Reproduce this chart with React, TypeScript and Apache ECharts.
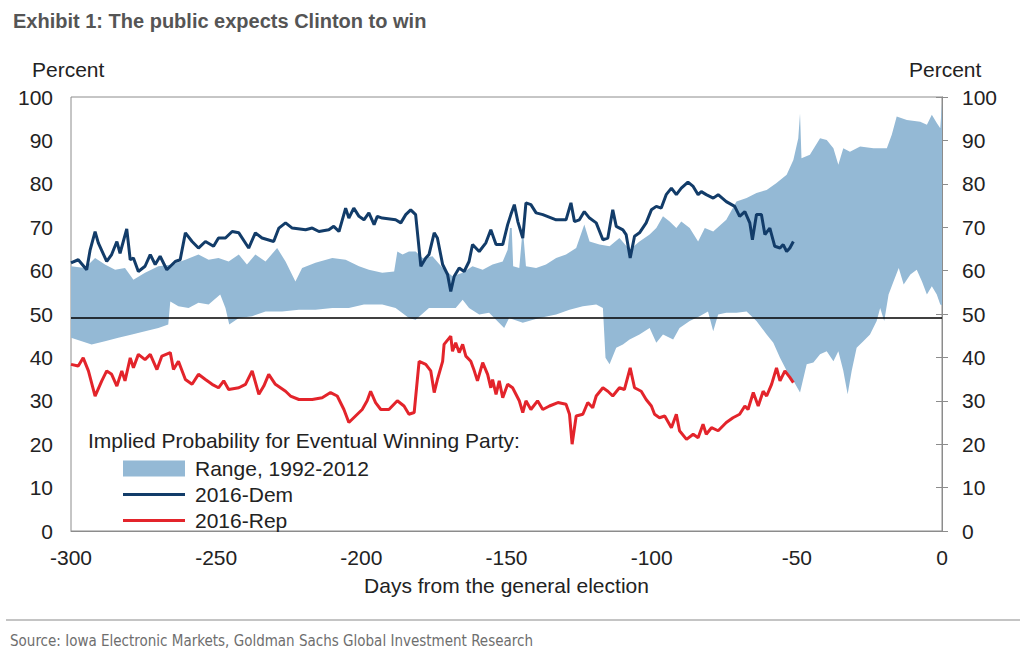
import React, { useEffect, useRef } from "react";
import * as echarts from "echarts";

const demDays = [-300, -297.5, -294.6, -293.4, -291.7, -290.6, -287.7, -286, -284.2, -283.1, -280.8, -279.6, -278.5, -276.8, -274.5, -272.7, -271, -269.3, -267, -264.1, -262.4, -260.6, -258.3, -256.1, -253.7, -250.9, -249.2, -246.8, -244.5, -242.2, -238.8, -236.5, -234.2, -230.2, -228.4, -226.1, -223.8, -219.2, -216.9, -214.6, -211.2, -209.5, -207.7, -205.4, -204.3, -202.6, -200.8, -199.1, -197.4, -195.6, -194.5, -192.8, -188.2, -186.4, -184.7, -183, -181.3, -179.5, -177.8, -176.7, -174.9, -173.8, -172, -170.3, -169.2, -168, -166.3, -164.6, -162.9, -161.7, -159.4, -157.1, -155.4, -153.6, -151.3, -149.6, -148.5, -147.3, -146.1, -144.4, -143.3, -141.6, -139.8, -137.5, -132.9, -129.5, -127.8, -126.6, -124.9, -123.2, -121.4, -119.1, -116.8, -115.1, -113.4, -112.2, -109.9, -108.8, -107.4, -105.9, -104.2, -101.9, -100.1, -98.4, -96.7, -95, -93.2, -91.5, -89.8, -87.5, -85.7, -84, -82.9, -81.2, -78.8, -77.1, -74.3, -71.4, -69.7, -67.9, -66.2, -65.3, -63.9, -62.2, -61, -59.3, -57.6, -55.8, -54.7, -53.5, -52.4, -51.2];
const demVals = [61.8, 62.5, 60.2, 64.8, 69, 66.4, 62.1, 63.7, 66.7, 64, 69.6, 62.5, 62.9, 59.8, 61, 63.7, 61.4, 63.3, 60.2, 62.1, 62.5, 68.7, 66.7, 65.2, 66.7, 65.6, 67.5, 67.5, 69, 68.7, 65.2, 68.7, 67.5, 66.7, 69.8, 71, 69.8, 69.4, 69.8, 69, 69.4, 70.2, 69, 74.4, 72.1, 74.4, 72.5, 71.7, 73.3, 70.6, 72.5, 72.1, 71.7, 71, 72.9, 74, 72.9, 61, 62.9, 63.7, 68.7, 67.5, 61.4, 59.1, 55.2, 58.7, 60.6, 59.8, 62.1, 66, 64.4, 66.4, 69.4, 66, 66, 70.6, 72.9, 75.2, 71.3, 67.5, 75.6, 75.2, 73.3, 72.9, 71.7, 71.7, 75.6, 71.3, 71.7, 73.6, 72.1, 71, 67.1, 67.5, 74, 70.2, 69.4, 68.3, 62.9, 67.9, 68.7, 71, 74, 74.8, 74.4, 77.5, 79, 77.5, 79, 80.4, 79.4, 77.5, 78.2, 77.5, 76.7, 77.5, 75.9, 74.8, 72.5, 73.6, 71, 67.1, 72.9, 72.9, 68.3, 69.8, 65.6, 65.2, 66, 64.4, 65.2, 66.7];

const repDays = [-300, -297.5, -295.8, -294, -291.7, -289.4, -287.7, -286, -284.2, -282.5, -281.4, -279.6, -278.5, -276.8, -274.5, -272.7, -270.4, -268.7, -265.8, -264.7, -263, -260.6, -258.3, -256.1, -253.7, -251.4, -249.2, -247.4, -245.7, -242.2, -239.9, -237.6, -235.3, -233.6, -231.9, -229.6, -226.1, -224.4, -221.5, -216.9, -213.5, -210.6, -208.3, -206, -204.3, -202, -199.7, -198, -196.8, -195.1, -193.3, -190.5, -187.6, -185.3, -183.6, -181.8, -180.1, -177.8, -176.1, -174.9, -173.8, -172, -171.5, -169.2, -168.6, -167.5, -166.3, -165.1, -164, -162.3, -161.1, -160, -158.2, -156.5, -155.4, -154.8, -153.6, -152.5, -151.3, -149.6, -147.9, -145.6, -144.4, -143.3, -141.6, -139.3, -137.5, -135.2, -132.3, -129.5, -128.3, -127.4, -126, -123.7, -122, -120.3, -119.1, -116.8, -115.1, -113.4, -111.1, -109.4, -107.4, -105.9, -103.6, -101.9, -100.1, -99, -97.3, -95.5, -93.2, -91.5, -90.4, -88, -85.7, -84, -82.3, -81.2, -79.4, -77.1, -74.3, -72, -69.7, -67.9, -66.8, -65, -63.3, -61.6, -60.4, -58.7, -57, -55.8, -54.1, -52.4, -51.2];
const repVals = [38.4, 38, 39.9, 36.9, 31.1, 34.6, 36.9, 36.1, 33.4, 36.9, 34.6, 39.9, 37.6, 40.7, 39.5, 40.7, 37.2, 40.3, 41.1, 37.2, 39.1, 34.9, 33.8, 36.1, 34.9, 33.8, 33, 34.6, 32.6, 33, 33.8, 36.9, 31.5, 33.4, 36.1, 33.8, 32.2, 31.1, 30.3, 30.3, 30.7, 31.9, 31.1, 28, 25, 26.5, 28, 30, 32.2, 29.6, 28, 28, 30, 28.8, 26.9, 27.3, 39.1, 38.4, 36.9, 31.9, 34.9, 39.1, 43, 44.9, 41.4, 43.4, 41.1, 43, 40.3, 39.1, 36.9, 34.6, 38.8, 36.1, 33, 34.9, 31.5, 34.6, 30.7, 33.8, 33, 30, 27.3, 30, 28, 30, 28, 28.8, 29.6, 29.2, 26.9, 20, 26.5, 26.9, 29.6, 28.4, 31.1, 33, 32.2, 31.1, 33, 32.6, 37.6, 33, 32.2, 30.3, 28.8, 26.9, 26.1, 26.5, 23.8, 26.9, 23.1, 21.1, 22.3, 21.5, 24.6, 22.3, 23.8, 23.1, 25, 26.1, 26.9, 28.8, 28, 31.9, 28.8, 32.2, 31.1, 33.8, 37.6, 34.6, 36.9, 35.4, 34.2];

const rangeUpperDays = [-300, -295.2, -291.7, -288.3, -284.8, -281.4, -278.5, -274.5, -269.9, -265.2, -260.6, -256.1, -252.6, -249.2, -245.7, -242.2, -239.4, -236.5, -233, -229, -226.1, -222.7, -220.4, -215.8, -210, -205.4, -200.8, -197.4, -192.8, -188.7, -187.6, -185.8, -183.6, -181.3, -178.9, -175.5, -172, -168.6, -165.1, -161.7, -158.2, -154.8, -151.3, -149.6, -148.8, -148.2, -147.7, -145.6, -144.7, -144.1, -143.3, -139.8, -136.4, -132.9, -129.5, -126, -123.2, -121.4, -118, -114.5, -111.1, -107.6, -104.2, -100.7, -98.4, -96.1, -93.8, -91.5, -89.8, -86.9, -84, -81.7, -78.8, -74.3, -70.8, -67.3, -63.9, -60.4, -57, -53.5, -51.2, -49.5, -48.9, -48.4, -45.5, -42, -39.7, -37.4, -35.7, -34, -31.7, -28.2, -23.6, -19, -17.3, -15.6, -12.1, -7.5, -5.2, -3.5, -1.8, -0.6, 0];
const rangeUpperVals = [61, 60.6, 62.9, 61.4, 60.2, 60.6, 57.9, 59.5, 61, 61.4, 62.5, 63.7, 62.5, 62.9, 62.1, 63.7, 61.4, 63.7, 62.1, 65.2, 62.1, 57.5, 60.6, 61.8, 62.9, 62.5, 61, 60.2, 59.5, 59.8, 64.4, 63.7, 64.4, 64.4, 62.9, 63.3, 60.6, 58.7, 59.5, 61, 60.2, 61.4, 62.1, 64.8, 69.8, 69.8, 61, 60.6, 67.5, 67.5, 61, 60.6, 61.4, 62.9, 63.7, 65.2, 70.6, 66.7, 66, 65.6, 67.5, 64.8, 66.7, 68.3, 69.8, 72.5, 71.3, 69.8, 71.3, 69.8, 66.7, 69.8, 69, 71.7, 75.9, 76.7, 77.9, 78.6, 80.2, 82.1, 85.5, 90.5, 96.2, 85.9, 86.7, 90.5, 90.1, 88.2, 84.4, 88.2, 87.4, 88.6, 88.2, 88.2, 91.3, 95.5, 94.7, 94.3, 93.6, 95.9, 94, 92.8, 98.5];

const rangeLowerDays = [-300, -296.3, -292.9, -288.3, -283.7, -279, -274.5, -269.9, -266.5, -265.8, -263, -259.5, -256.1, -252.6, -248.6, -246.8, -245.5, -242.2, -237.6, -233, -227.3, -221.5, -215.8, -210, -204.3, -199.1, -192.8, -188.2, -183.6, -181.3, -176.7, -172, -167.5, -165.1, -162.9, -159.4, -156, -150.8, -149.1, -144.4, -138.7, -132.9, -128.3, -123.7, -119.1, -116.8, -115.9, -114.5, -112.2, -109.9, -107.6, -104.2, -100.7, -98.4, -96.1, -92.6, -90.4, -86.9, -83.5, -80.6, -78.8, -77.1, -74.3, -70.8, -67.3, -63.9, -60.4, -58.1, -55.8, -53.5, -51.2, -48.9, -46.6, -44.3, -42, -39.7, -37.4, -35.7, -34, -32.5, -31.1, -29.4, -27.1, -24.8, -22.5, -21.3, -19.9, -18.4, -16.7, -14.9, -13.2, -10.9, -8.7, -6.9, -5.2, -3.5, -1.8, -0.6, 0];
const rangeLowerVals = [44.5, 43.7, 43, 43.7, 44.5, 45.3, 46, 46.8, 47.6, 52.9, 51.8, 51.4, 52.6, 52.2, 54.5, 51.4, 47.6, 49.1, 49.5, 50.6, 50.6, 51, 51, 51.4, 51.4, 52.2, 52.2, 51.4, 49.1, 48.7, 51.4, 51.4, 51.4, 53.3, 51.4, 49.9, 50.3, 46.8, 49.1, 48, 49.1, 49.9, 51, 51.8, 52.2, 51.4, 39.9, 38.4, 42.2, 43, 44.1, 45.3, 46.8, 43.4, 45.3, 44.1, 46.8, 48.4, 49.5, 50.6, 46, 49.9, 50.3, 50.3, 50.6, 48.4, 45.3, 43.4, 39.9, 36.9, 34.6, 31.9, 38.4, 38.8, 40.7, 41.4, 39.1, 41.4, 36.9, 31.5, 36.9, 42.2, 43.7, 45.3, 48.4, 51.4, 48.4, 54.5, 57.5, 60.6, 56.8, 59.1, 60.2, 57.5, 54.5, 56.4, 54.5, 52.2, 52];

const yTicks = [0, 10, 20, 30, 40, 50, 60, 70, 80, 90, 100];
const xTicks = [-300, -250, -200, -150, -100, -50, 0];
const referenceLevel = 49.2;

const FONT = '"Liberation Sans", Arial, sans-serif';
const TEXT = "#222222";
const AXIS = "#8c8c8c";
const BAND = "#94b9d5";
const DEM = "#123c69";
const REP = "#e3242b";
const LINE_ICON = "path://M0,0 L62,0 L62,3 L0,3 Z";

export default function App() {
  const ref = useRef<HTMLDivElement>(null);

  useEffect(() => {
    if (!ref.current) return;
    const chart = echarts.init(ref.current, null, { renderer: "svg" });

    const yAxisBase = (pos: "left" | "right", margin: number) => ({
      type: "value",
      position: pos,
      min: yTicks[0],
      max: yTicks[yTicks.length - 1],
      interval: yTicks[1] - yTicks[0],
      axisLine: { show: true, lineStyle: { color: AXIS, width: 1 } },
      axisTick: { show: true, inside: false, length: 6, lineStyle: { color: AXIS } },
      axisLabel: { fontSize: 21, color: TEXT, fontFamily: FONT, margin },
      splitLine: { show: false },
    });

    chart.setOption({
      animation: false,
      backgroundColor: "#ffffff",
      textStyle: { fontFamily: FONT },
      grid: { left: 71, right: 82, top: 97, bottom: 138, show: true, borderColor: AXIS, borderWidth: 1, containLabel: false },
      xAxis: {
        type: "value",
        min: xTicks[0],
        max: xTicks[xTicks.length - 1],
        interval: xTicks[1] - xTicks[0],
        axisLine: { show: true, lineStyle: { color: AXIS } },
        axisTick: { show: false },
        axisLabel: { fontSize: 21, color: TEXT, fontFamily: FONT, margin: 16 },
        splitLine: { show: false },
        name: "Days from the general election",
        nameLocation: "middle",
        nameGap: 44,
        nameTextStyle: { fontSize: 21, color: TEXT, fontFamily: FONT },
      },
      yAxis: [yAxisBase("left", 18), yAxisBase("right", 20)],
      legend: {
        orient: "vertical",
        left: 118,
        top: 453,
        itemWidth: 62,
        itemHeight: 16,
        itemGap: 5,
        textStyle: { fontSize: 21, color: TEXT, fontFamily: FONT, padding: [0, 0, 0, 5] },
        data: [
          { name: "Range, 1992-2012", icon: "rect" },
          { name: "2016-Dem", icon: LINE_ICON },
          { name: "2016-Rep", icon: LINE_ICON },
        ],
      },
      graphic: [
        { type: "text", x: 13, y: 21, style: { text: "Exhibit 1: The public expects Clinton to win", font: `bold 20px ${FONT}`, fill: "#555555", textVerticalAlign: "middle" } },
        { type: "text", x: 32, y: 69, style: { text: "Percent", font: `21px ${FONT}`, fill: TEXT, textVerticalAlign: "middle" } },
        { type: "text", x: 909, y: 69, style: { text: "Percent", font: `21px ${FONT}`, fill: TEXT, textVerticalAlign: "middle" } },
        { type: "text", x: 88, y: 440, style: { text: "Implied Probability for Eventual Winning Party:", font: `21px ${FONT}`, fill: TEXT, textVerticalAlign: "middle" } },
        { type: "line", shape: { x1: 6, y1: 620, x2: 1020, y2: 620 }, style: { stroke: "#b0b0b0", lineWidth: 1.5 } },
        { type: "text", x: 10, y: 641, style: { text: "Source: Iowa Electronic Markets, Goldman Sachs Global Investment Research", font: `15px "DejaVu Sans Condensed", ${FONT}`, fill: "#6e6e6e", textVerticalAlign: "middle" } },
      ],
      series: [
        {
          name: "Range, 1992-2012",
          type: "custom",
          coordinateSystem: "cartesian2d",
          itemStyle: { color: BAND },
          data: [[rangeUpperDays[0], rangeUpperVals[0]]],
          renderItem: (_params: any, api: any) => {
            const pts: number[][] = [];
            for (let i = 0; i < rangeUpperDays.length; i++) pts.push(api.coord([rangeUpperDays[i], rangeUpperVals[i]]));
            for (let i = rangeLowerDays.length - 1; i >= 0; i--) pts.push(api.coord([rangeLowerDays[i], rangeLowerVals[i]]));
            return { type: "polygon", shape: { points: pts }, style: { fill: BAND } };
          },
          z: 1,
        },
        {
          name: "2016-Dem",
          type: "line",
          symbol: "none",
          color: DEM,
          lineStyle: { color: DEM, width: 3 },
          data: demDays.map((d, i) => [d, demVals[i]]),
          z: 3,
          markLine: {
            silent: true,
            symbol: ["none", "none"],
            label: { show: false },
            lineStyle: { color: "#000000", width: 1.6, type: "solid" },
            data: [{ yAxis: referenceLevel }],
          },
        },
        {
          name: "2016-Rep",
          type: "line",
          symbol: "none",
          color: REP,
          lineStyle: { color: REP, width: 3 },
          data: repDays.map((d, i) => [d, repVals[i]]),
          z: 3,
        },
      ],
    });

    return () => chart.dispose();
  }, []);

  return <div ref={ref} style={{ position: "fixed", left: 0, top: 0, width: 1024, height: 669 }} />;
}
